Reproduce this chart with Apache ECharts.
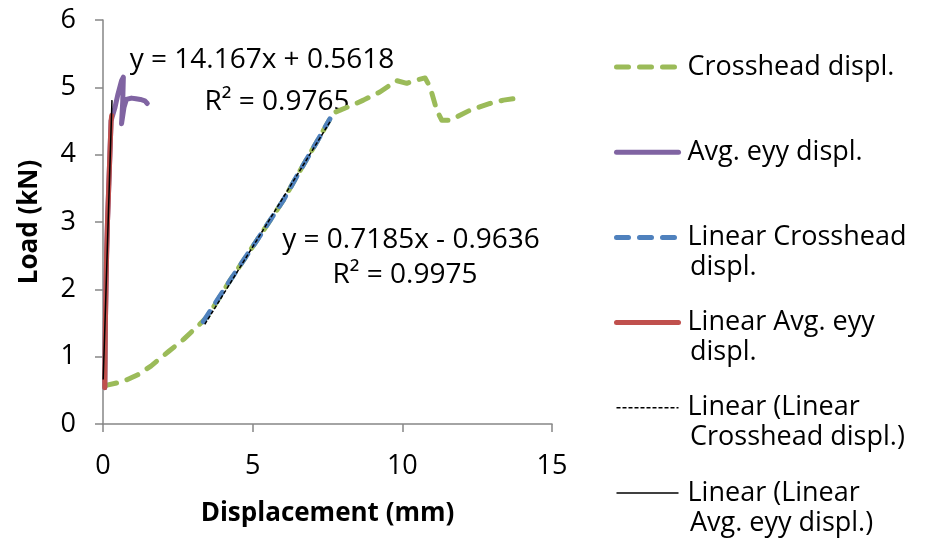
<!DOCTYPE html>
<html>
<head>
<meta charset="utf-8">
<script src="https://cdn.jsdelivr.net/npm/echarts@6/dist/echarts.min.js"></script>
<style>
  html, body { margin: 0; padding: 0; background: #fff; }
  #chart { width: 930px; height: 548px; }
</style>
</head>
<body>
<div id="chart"></div>
<script>
// crosshead displacement vs load
const crossX = [0.06, 0.67, 1.2, 1.6, 2.2, 2.7, 3.2, 3.5, 4.24, 5.13, 6.02, 6.5, 7.0, 7.58, 7.75, 8.3, 8.7, 9.25, 9.81, 10.15, 10.42, 10.76, 10.93, 11.15, 11.32, 11.6, 12.26, 12.93, 13.38, 13.71, 13.88];
const crossY = [0.57, 0.63, 0.74, 0.86, 1.08, 1.26, 1.47, 1.6, 2.13, 2.72, 3.32, 3.7, 4.08, 4.53, 4.63, 4.73, 4.81, 4.93, 5.10, 5.06, 5.10, 5.14, 5.0, 4.66, 4.51, 4.51, 4.66, 4.76, 4.81, 4.83, 4.76];

// avg eyy displacement
const eyyX = [0.06, 0.07, 0.08, 0.1, 0.12, 0.15, 0.19, 0.23, 0.27, 0.3, 0.4, 0.5, 0.62, 0.68, 0.66, 0.62, 0.7, 0.78, 0.95, 1.1, 1.25, 1.4, 1.48];
const eyyY = [0.54, 1.0, 1.5, 2.0, 2.5, 3.0, 3.5, 4.0, 4.5, 4.55, 4.7, 4.9, 5.1, 5.15, 4.8, 4.46, 4.7, 4.82, 4.84, 4.83, 4.82, 4.8, 4.76];

// linear parts
const linCrossX = [3.35, 4.24, 5.13, 6.02, 6.5, 7.0, 7.58];
const linCrossY = [1.52, 2.13, 2.72, 3.32, 3.7, 4.08, 4.53];
const linEyyX = [0.06, 0.07, 0.08, 0.1, 0.12, 0.15, 0.19, 0.23, 0.27, 0.29];
const linEyyY = [0.54, 1.0, 1.5, 2.0, 2.5, 3.0, 3.5, 4.0, 4.5, 4.58];

// trendline end points
const trendCrossX = [3.4, 7.6];
const trendCrossY = [1.48, 4.50];
const trendEyyX = [0.007, 0.3];
const trendEyyY = [0.66, 4.81];

const xTicks = { min: 0, max: 15, interval: 5 };
const yTicks = { min: 0, max: 6, interval: 1 };

const seriesNames = ['Crosshead displ.', 'Avg. eyy displ.', 'Linear Crosshead displ.', 'Linear Avg. eyy displ.', 'Linear (Linear Crosshead displ.)', 'Linear (Linear Avg. eyy displ.)'];
const legendFirstLine = ['Crosshead displ.', 'Avg. eyy displ.', 'Linear Crosshead', 'Linear Avg. eyy', 'Linear (Linear', 'Linear (Linear'];
const legendSecondLine = [null, null, 'displ.', 'displ.', 'Crosshead displ.)', 'Avg. eyy displ.)'];

const FONT = '"Open Sans", sans-serif';

const pairs = (xs, ys) => xs.map((x, i) => [x, ys[i]]);

const styles = [
  { color: '#9BBB59', width: 5, type: [12, 11], cap: 'round' },
  { color: '#8064A2', width: 5, type: 'solid', cap: 'round' },
  { color: '#4F81BD', width: 5, type: [12, 11], cap: 'round' },
  { color: '#C0504D', width: 5, type: 'solid', cap: 'round' },
  { color: '#000000', width: 1.5, type: [4, 2], cap: 'butt' },
  { color: '#000000', width: 1.5, type: 'solid', cap: 'butt' }
];

const mkLine = (i, data) => ({
  name: seriesNames[i],
  type: 'line',
  data,
  symbol: 'none',
  smooth: false,
  color: styles[i].color,
  lineStyle: Object.assign({ join: 'round' }, styles[i])
});

const series = [
  mkLine(0, pairs(crossX, crossY)),
  mkLine(1, pairs(eyyX, eyyY)),
  mkLine(2, pairs(linCrossX, linCrossY)),
  mkLine(3, pairs(linEyyX, linEyyY)),
  mkLine(4, pairs(trendCrossX, trendCrossY)),
  mkLine(5, pairs(trendEyyX, trendEyyY))
];

// second lines of wrapped legend labels + trendline equations
const graphics = [];
const legendTop = 66, legendPitch = 85.2;
legendSecondLine.forEach((t, i) => {
  if (!t) return;
  graphics.push({
    type: 'text', x: 690, y: legendTop + legendPitch * i + 31,
    style: { text: t, font: '27px ' + FONT, fill: '#000', verticalAlign: 'middle' }
  });
});
const eqTexts = [
  { text: 'y = 14.167x + 0.5618', cx: 262, cy: 60 },
  { text: 'R² = 0.9765', cx: 277, cy: 102 },
  { text: 'y = 0.7185x - 0.9636', cx: 411, cy: 240 },
  { text: 'R² = 0.9975', cx: 405, cy: 275 }
];
eqTexts.forEach(e => {
  graphics.push({
    type: 'text', x: e.cx, y: e.cy,
    style: { text: e.text, font: '28px ' + FONT, fill: '#000', align: 'center', verticalAlign: 'middle' }
  });
});

const axisCommon = {
  type: 'value',
  splitLine: { show: false },
  axisLine: { show: true, onZero: false, lineStyle: { color: '#868686', width: 1.5 } },
  axisTick: { show: true, length: 8, lineStyle: { color: '#868686', width: 1.5 } },
  nameLocation: 'middle',
  nameTextStyle: { fontFamily: FONT, fontSize: 26, fontWeight: 'bold', color: '#000' }
};

const option = {
  animation: false,
  backgroundColor: '#fff',
  grid: { left: 103, right: 378, top: 20, bottom: 124, containLabel: false },
  xAxis: Object.assign({}, axisCommon, {
    min: xTicks.min, max: xTicks.max, interval: xTicks.interval,
    name: 'Displacement (mm)', nameGap: 77,
    axisLabel: { margin: 29, fontFamily: FONT, fontSize: 27, color: '#000' }
  }),
  yAxis: Object.assign({}, axisCommon, {
    min: yTicks.min, max: yTicks.max, interval: yTicks.interval,
    name: 'Load (kN)', nameGap: 60, nameRotate: 90,
    axisLabel: { margin: 27, fontFamily: FONT, fontSize: 27, color: '#000' }
  }),
  legend: {
    orient: 'vertical',
    left: 609,
    top: legendTop - 20.5,
    itemWidth: 62,
    itemHeight: 14,
    itemGap: legendPitch - 33,
    selectedMode: false,
    itemStyle: { opacity: 0 },
    data: seriesNames.map((n, i) => ({
      name: n,
      itemStyle: { opacity: 0 },
      lineStyle: { color: styles[i].color, width: styles[i].width, type: styles[i].type, cap: styles[i].cap }
    })),
    formatter: name => legendFirstLine[seriesNames.indexOf(name)],
    textStyle: { fontFamily: FONT, fontSize: 27, color: '#000', lineHeight: 33, padding: [0, 0, 0, 4] }
  },
  graphic: graphics,
  series
};

const chart = echarts.init(document.getElementById('chart'), null, { renderer: 'canvas' });
chart.setOption(option);
</script>
</body>
</html>
